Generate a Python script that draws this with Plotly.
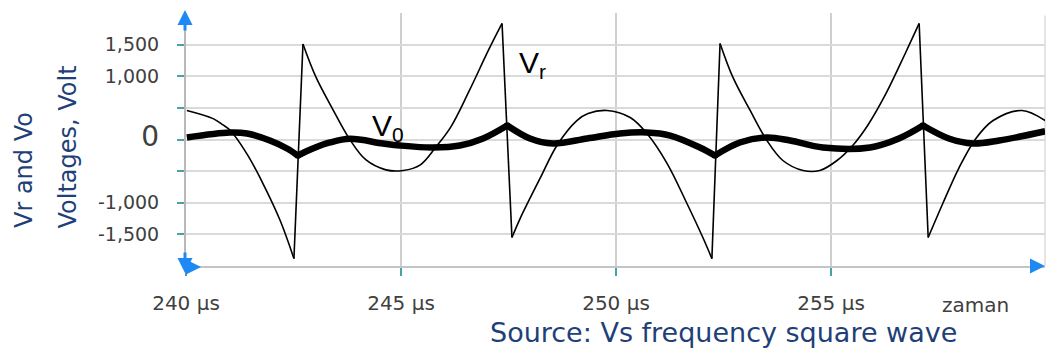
import plotly.graph_objects as go

# ---- data (time in microseconds, voltage in volts) ----
vr_t = [240.02, 240.63, 240.86, 241.02, 241.42, 241.79, 242.19, 242.51,
        242.72, 243.02, 243.42, 243.81, 244.18, 244.65, 245.05, 245.45, 245.81,
        246.16, 246.58, 247.04, 247.35,
        247.58, 247.77, 248.23, 248.63, 249.09, 249.35, 249.79, 250.33, 250.72,
        251.19, 251.65, 252.02, 252.23,
        252.42, 252.72, 253.12, 253.51, 253.88, 254.35, 254.74, 255.14, 255.51,
        255.86, 256.28, 256.74, 257.05,
        257.26, 257.60, 257.98, 258.37, 258.77, 259.44, 259.98]
vr_v = [459, 330, 230, 150, -230, -696, -1281, -1883,
        1511, 990, 470, 0, -320, -480, -490, -400, -120,
        200, 760, 1420, 1835,
        -1550, -1250, -620, -90, 300, 410, 459, 348, 95,
        -380, -1012, -1550, -1883,
        1519, 981, 459, -16, -332, -490, -490, -332, -90,
        230, 728, 1380, 1835,
        -1550, -1012, -443, 16, 300, 459, 300]

vo_t = [240.02, 241.02, 241.42, 241.95, 242.35, 242.60, 242.95, 243.35, 243.81,
        244.58, 244.98, 245.74, 246.37, 246.91, 247.47, 248.00, 248.53, 249.33,
        250.09, 250.72, 251.26, 251.95, 252.30, 252.88, 253.51, 254.05, 254.81,
        255.91, 256.58, 257.14, 257.74, 258.30, 258.91, 259.98]
vo_v = [32, 111, 95, -16, -142, -253, -142, -47, 10,
        -63, -95, -126, -95, 16, 221, 16, -63, 16,
        95, 111, 63, -126, -253, -47, 32, -16, -126,
        -126, 16, 221, 16, -63, -16, 130]

y_tickvals = [-1500, -1000, -500, 0, 500, 1000, 1500]
y_ticktext = ["-1,500", "-1,000", "", "<span style='font-size:28px'>0</span>", "", "1,000", "1,500"]
x_tickvals = [240, 245, 250, 255]
x_ticktext = ["240 µs", "245 µs", "250 µs", "255 µs"]

W, H = 1046, 349
ML, MR, MT, MB = 186, 1, 13, 83
px_per_us = 43.0
x_end = 240 + (W - ML - MR) / px_per_us

def px(xp):
    return (xp - ML) / (W - ML - MR)

def py(yp):
    return (H - MB - yp) / (H - MT - MB)

# split Vr into smooth pieces and near-vertical switching edges
smooth_t, smooth_v, jump_t, jump_v = [], [], [], []
for i in range(len(vr_t)):
    smooth_t.append(vr_t[i]); smooth_v.append(vr_v[i])
    if i + 1 < len(vr_t) and abs(vr_v[i + 1] - vr_v[i]) > 2000:
        smooth_t.append(None); smooth_v.append(None)
        jump_t += [vr_t[i], vr_t[i + 1], None]
        jump_v += [vr_v[i], vr_v[i + 1], None]

# split Vo at its cusps (switching instants) so the cusps stay sharp
vo_pt, vo_pv, cusp_t, cusp_v = [], [], [], []
for i in range(len(vo_t)):
    vo_pt.append(vo_t[i]); vo_pv.append(vo_v[i])
    if abs(vo_v[i]) > 200 and 0 < i < len(vo_t) - 1:
        vo_pt += [None, vo_t[i]]; vo_pv += [None, vo_v[i]]
        cusp_t.append(vo_t[i]); cusp_v.append(vo_v[i])

fig = go.Figure()
fig.add_trace(go.Scatter(x=smooth_t, y=smooth_v, mode="lines", connectgaps=False,
                         line=dict(color="black", width=1.6, shape="spline", smoothing=1.0),
                         showlegend=False))
fig.add_trace(go.Scatter(x=jump_t, y=jump_v, mode="lines", connectgaps=False,
                         line=dict(color="black", width=1.6), showlegend=False))
fig.add_trace(go.Scatter(x=vo_pt, y=vo_pv, mode="lines", connectgaps=False,
                         line=dict(color="black", width=6.5, shape="spline", smoothing=1.0),
                         showlegend=False))
fig.add_trace(go.Scatter(x=cusp_t, y=cusp_v, mode="markers",
                         marker=dict(color="black", size=6.5, line=dict(width=0)),
                         showlegend=False))

blue = "#1e88f5"
title_col = "#1f3f78"
ann = [
    dict(x=244.70, y=190, xref="x", yref="y", text="V<sub>0</sub>", showarrow=False,
         font=dict(family="Liberation Sans, Arial", size=30, color="black")),
    dict(x=248.05, y=1186, xref="x", yref="y", text="V<sub>r</sub>", showarrow=False,
         font=dict(family="Liberation Sans, Arial", size=30, color="black")),
    dict(x=px(24), y=py(230), xref="paper", yref="paper", text="Vr and Vo", textangle=-90,
         showarrow=False, xanchor="center", yanchor="bottom",
         font=dict(family="DejaVu Sans", size=24, color=title_col)),
    dict(x=px(68), y=py(230), xref="paper", yref="paper", text="Voltages, Volt", textangle=-90,
         showarrow=False, xanchor="center", yanchor="bottom",
         font=dict(family="DejaVu Sans", size=24, color=title_col)),
    dict(x=px(488), y=py(332), xref="paper", yref="paper", text="Source: Vs frequency square wave",
         showarrow=False, xanchor="left", yanchor="middle",
         font=dict(family="DejaVu Sans", size=27, color=title_col)),
    dict(x=px(975), y=py(305), xref="paper", yref="paper", text="zaman",
         showarrow=False, xanchor="center", yanchor="middle",
         font=dict(family="DejaVu Sans", size=20, color="#404040")),
    # axis arrows
    dict(x=px(185), y=py(10), xref="paper", yref="paper", ax=0, ay=22, text="", showarrow=True,
         arrowhead=2, arrowsize=1, arrowwidth=3, arrowcolor=blue),
    dict(x=px(185), y=py(273), xref="paper", yref="paper", ax=0, ay=-22, text="", showarrow=True,
         arrowhead=2, arrowsize=1, arrowwidth=3, arrowcolor=blue),
    dict(x=px(201), y=py(267), xref="paper", yref="paper", ax=-16, ay=0, text="", showarrow=True,
         arrowhead=2, arrowsize=1, arrowwidth=3, arrowcolor=blue),
    dict(x=px(1046), y=py(266), xref="paper", yref="paper", ax=-10, ay=0, text="", showarrow=True,
         arrowhead=2, arrowsize=1, arrowwidth=3, arrowcolor=blue),
]

fig.update_layout(
    width=W, height=H,
    margin=dict(l=ML, r=MR, t=MT, b=MB),
    paper_bgcolor="white", plot_bgcolor="white",
    annotations=ann,
    shapes=[dict(type="line", xref="paper", yref="paper", x0=1, x1=1, y0=0, y1=0.99,
                 line=dict(color="#dcdcdc", width=1.5), layer="below")],
    xaxis=dict(range=[240, x_end], tickvals=x_tickvals, ticktext=x_ticktext,
               showgrid=True, gridcolor="#cfcfcf", gridwidth=1.5, zeroline=False,
               showline=True, linecolor="#c4c4c4", linewidth=2,
               ticks="outside", ticklen=8, tickwidth=2, tickcolor="#4aa3a3",
               ticklabelstandoff=10,
               tickfont=dict(family="DejaVu Sans", size=20, color="#404040")),
    yaxis=dict(range=[-2000, 2000], tickvals=y_tickvals, ticktext=y_ticktext,
               showgrid=True, gridcolor="#dadada", gridwidth=2, zeroline=False,
               showline=True, linecolor="#b8b8b8", linewidth=2,
               ticks="outside", ticklen=7, tickwidth=2, tickcolor="#4aa3a3",
               ticklabelstandoff=14,
               tickfont=dict(family="DejaVu Sans", size=19, color="#404040")),
)

fig.write_html("out.html")
